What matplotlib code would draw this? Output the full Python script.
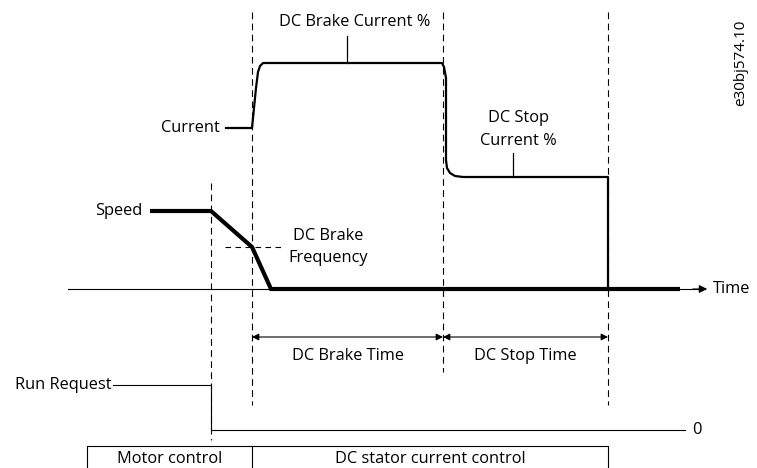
import matplotlib
matplotlib.use("Agg")
import matplotlib.pyplot as plt

# Diagram data (time axis in drawing units, y grows downward)
t_marks = [211, 252, 443, 608]          # run-request off, brake start, brake end, stop end
dash_top = [183, 12, 12, 12]
dash_bot = [440, 405, 372, 405]

current_t = [226, 252, 256, 258, 260, 263, 442, 444, 446, 446, 447, 450, 455, 463, 608, 608]
current_v = [128, 128, 88, 72, 66, 63, 63, 67, 78, 160, 168, 173, 176, 177, 177, 290]

speed_t = [150, 211, 252, 271, 680]
speed_v = [211, 211, 247, 289, 289]

brake_freq_y = 247
axis_y = 289
run_req_y = 385
zero_y = 430
dim_y = 337

plt.rcParams['font.family'] = ['Open Sans', 'DejaVu Sans']
fig = plt.figure(figsize=(7.57, 4.68), dpi=100)
ax = fig.add_axes([0, 0, 1, 1])
ax.set_xlim(0, 757)
ax.set_ylim(468, 0)
ax.axis('off')

fs = 11.8
k = 'black'

# dashed verticals
for x, y0, y1 in zip(t_marks, dash_top, dash_bot):
    ax.plot([x, x], [y0, y1], color=k, lw=0.8, dashes=(6, 4))

# current
ax.plot(current_t, current_v, color=k, lw=1.6, solid_joinstyle='round')
ax.text(220, 128, 'Current', ha='right', va='center', fontsize=fs)
ax.plot([347, 347], [36, 63], color=k, lw=0.9)
ax.text(355, 22, 'DC Brake Current %', ha='center', va='center', fontsize=fs)
ax.plot([513, 513], [153, 177], color=k, lw=0.9)
ax.text(518, 118, 'DC Stop', ha='center', va='center', fontsize=fs)
ax.text(518, 141, 'Current %', ha='center', va='center', fontsize=fs)

# time axis
ax.plot([68, 700], [axis_y, axis_y], color=k, lw=0.8)
ax.annotate('', xy=(710, axis_y), xytext=(690, axis_y),
            arrowprops=dict(arrowstyle='-|>', color=k, lw=0.8, mutation_scale=12))
ax.text(713, axis_y, 'Time', ha='left', va='center', fontsize=fs)

# speed
ax.plot(speed_t, speed_v, color=k, lw=3.0, solid_joinstyle='miter', solid_capstyle='butt')
ax.text(142, 211, 'Speed', ha='right', va='center', fontsize=fs)
ax.plot([225, 282], [brake_freq_y, brake_freq_y], color=k, lw=0.8, dashes=(5, 4))
ax.text(328, 236, 'DC Brake', ha='center', va='center', fontsize=fs)
ax.text(328, 258, 'Frequency', ha='center', va='center', fontsize=fs)

# dimension arrows
for a, b in [(t_marks[1], t_marks[2]), (t_marks[2], t_marks[3])]:
    ax.annotate('', xy=(a, dim_y), xytext=(b, dim_y),
                arrowprops=dict(arrowstyle='<|-|>', color=k, lw=0.8, mutation_scale=10,
                                shrinkA=0, shrinkB=0))
ax.text(348, 356, 'DC Brake Time', ha='center', va='center', fontsize=fs)
ax.text(525, 356, 'DC Stop Time', ha='center', va='center', fontsize=fs)

# run request
ax.text(112, run_req_y, 'Run Request', ha='right', va='center', fontsize=fs)
ax.plot([113, t_marks[0], t_marks[0], 685], [run_req_y, run_req_y, zero_y, zero_y], color=k, lw=0.8)
ax.text(692, zero_y, '0', ha='left', va='center', fontsize=fs)

# control box
ax.plot([87, 87, 608, 608], [470, 446, 446, 470], color=k, lw=0.8)
ax.plot([252, 252], [446, 470], color=k, lw=0.8)
ax.text(170, 459, 'Motor control', ha='center', va='center', fontsize=fs)
ax.text(430, 459, 'DC stator current control', ha='center', va='center', fontsize=fs)

ax.text(741, 63, 'e30bj574.10', rotation=90, ha='center', va='center', fontsize=11)

fig.savefig('out.png', dpi=100)
